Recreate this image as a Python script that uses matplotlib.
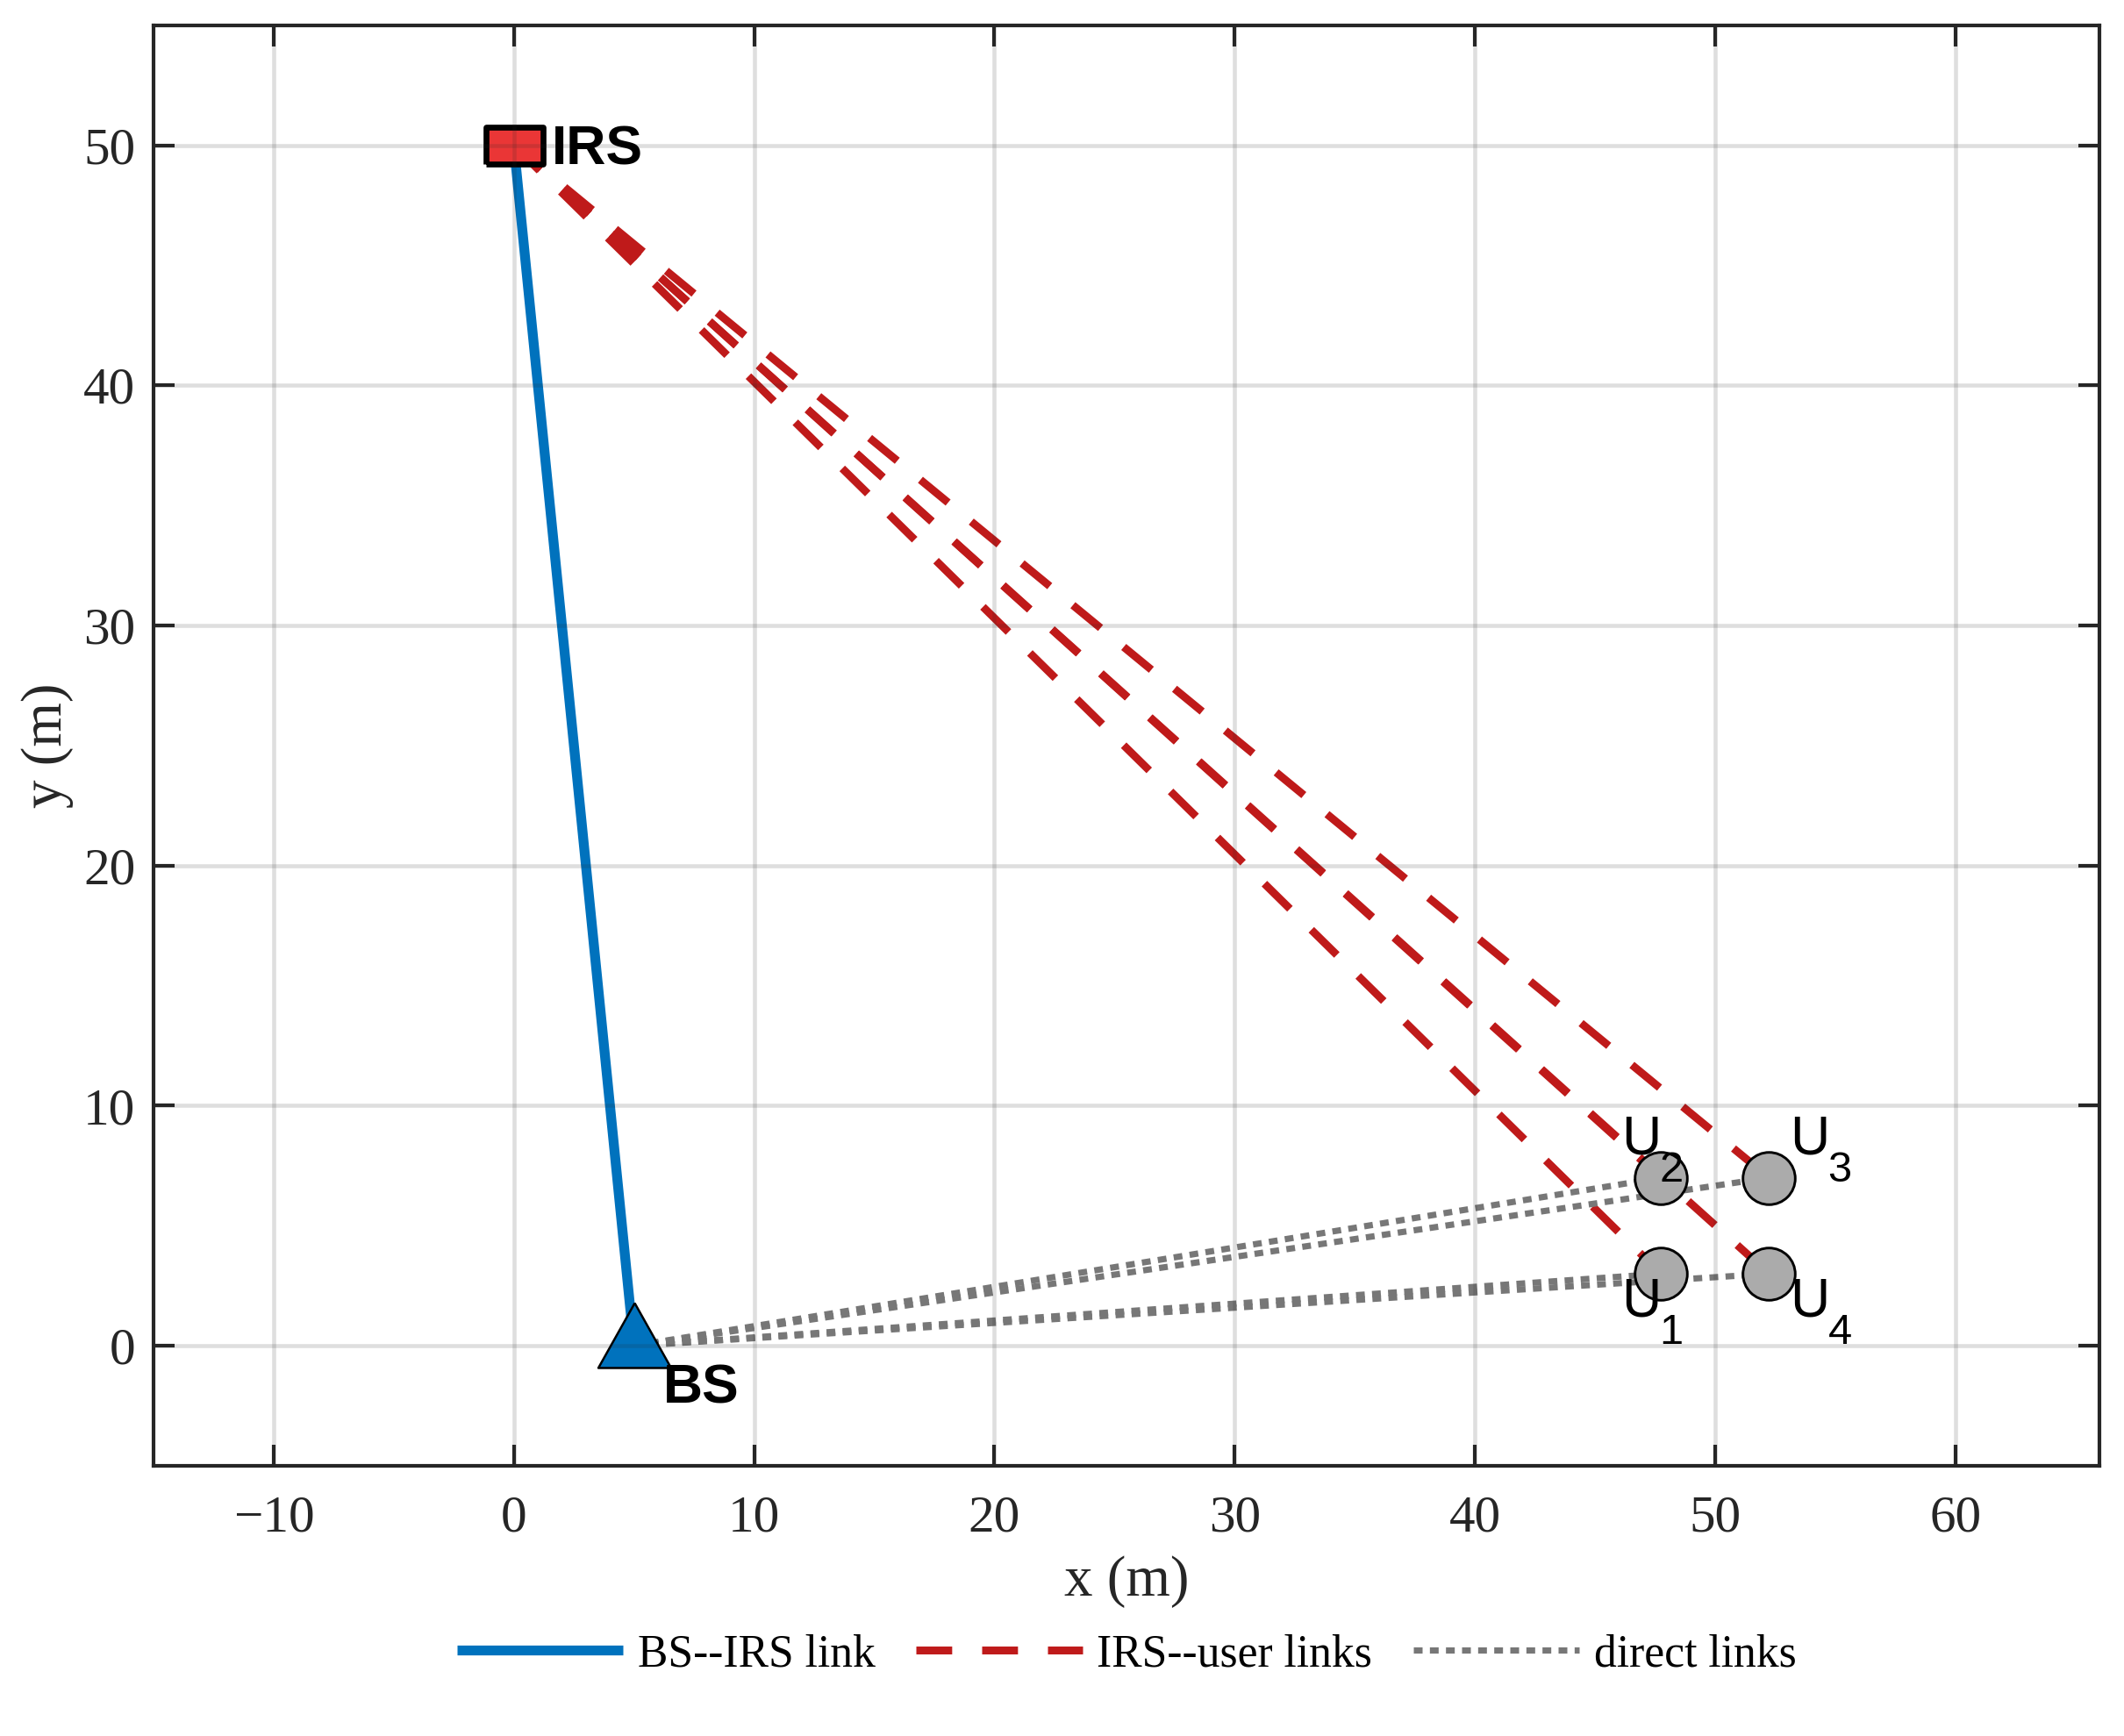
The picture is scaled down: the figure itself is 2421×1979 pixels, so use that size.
import matplotlib.pyplot as plt

# scene layout (metres)
bs_x, bs_y = 5, 0
irs_x, irs_y = 0, 50
user_x = [47.75, 47.75, 52.25, 52.25]
user_y = [3, 7, 7, 3]
user_ids = ['1', '2', '3', '4']

x_ticks = [-10, 0, 10, 20, 30, 40, 50, 60]
y_ticks = [0, 10, 20, 30, 40, 50]
x_lim = (-15, 66)
y_lim = (-5, 55)

blue = '#0072BD'
red = '#BF1A1A'
gray = '#777777'
dark = '#262626'

plt.rcParams['font.family'] = ['Liberation Serif', 'DejaVu Serif']
plt.rcParams['lines.scale_dashes'] = False

dpi = 300
fig = plt.figure(figsize=(2421 / dpi, 1979 / dpi), dpi=dpi)
ax = fig.add_axes([175 / 2421, 1 - 1671 / 1979, 2218 / 2421, 1642 / 1979])

# links
ax.plot([bs_x, irs_x], [bs_y, irs_y], color=blue, lw=2.7,
        solid_capstyle='butt', label='BS--IRS link')
for i in range(len(user_x)):
    ax.plot([irs_x, user_x[i]], [irs_y, user_y[i]], color=red, lw=2.15,
            dashes=(9.8, 8.2), dash_capstyle='butt',
            label='IRS--user links' if i == 0 else None)
for i in range(len(user_x)):
    ax.plot([bs_x, user_x[i]], [bs_y, user_y[i]], color=gray, lw=1.7,
            dashes=(2.4, 2.0), dash_capstyle='butt',
            label='direct links' if i == 0 else None)

# nodes
rect = [(-32.5, -21.2), (32.5, -21.2), (32.5, 21.2), (-32.5, 21.2), (-32.5, -21.2)]
ax.plot(irs_x, irs_y, linestyle='none', marker=rect, markersize=15.6,
        markerfacecolor='#EA3636', markeredgecolor='black', markeredgewidth=1.6)
tri = [(0, 49), (-41.5, -25), (41.5, -25), (0, 49)]
ax.plot(bs_x, bs_y, linestyle='none', marker=tri, markersize=23.5,
        markerfacecolor=blue, markeredgecolor='black', markeredgewidth=0.6)
ax.plot(user_x, user_y, linestyle='none', marker='o', markersize=14.3,
        markerfacecolor='#ABABAB', markeredgecolor='black', markeredgewidth=0.7)

sans = ['Liberation Sans', 'DejaVu Sans']
ax.annotate('IRS', (irs_x, irs_y), xytext=(43, -22), textcoords='offset pixels',
            fontsize=15, fontweight='bold', family=sans, ha='left', va='baseline')
ax.annotate('BS', (bs_x, bs_y), xytext=(33, -65), textcoords='offset pixels',
            fontsize=15, fontweight='bold', family=sans, ha='left', va='baseline')

cx = sum(user_x) / len(user_x)
cy = sum(user_y) / len(user_y)
for ux, uy, uid in zip(user_x, user_y, user_ids):
    left = ux < cx
    top = uy > cy
    u_dx = -45 if left else 24
    u_dy = 27 if top else -48
    n_dx = -2 if left else 67
    n_dy = -4 if top else -80
    ax.annotate('U', (ux, uy), xytext=(u_dx, u_dy), textcoords='offset pixels',
                fontsize=15, family=sans, ha='left', va='baseline', zorder=4)
    ax.annotate(uid, (ux, uy), xytext=(n_dx, n_dy), textcoords='offset pixels',
                fontsize=11.7, family=sans, ha='left', va='baseline', zorder=4)

ax.set_xlim(*x_lim)
ax.set_ylim(*y_lim)
ax.set_xticks(x_ticks)
ax.set_yticks(y_ticks)
ax.set_xticklabels([('\u2212' + str(-t)) if t < 0 else str(t) for t in x_ticks])
ax.tick_params(direction='in', length=5.7, width=1.0, color=dark,
               labelcolor=dark, labelsize=14.2, top=True, right=True)
ax.tick_params(axis='x', pad=8)
ax.tick_params(axis='y', pad=5)
for s in ax.spines.values():
    s.set_linewidth(1.0)
    s.set_color(dark)

ax.set_axisbelow(False)
ax.grid(True, color=(0.15, 0.15, 0.15), alpha=0.15, lw=1.1)

ax.set_xlabel('x (m)', fontsize=15.6, color=dark, labelpad=3.5)
ax.set_ylabel('y (m)', fontsize=15.6, color=dark, labelpad=2.5)

fig.legend(loc='center', bbox_to_anchor=(1284 / 2421, 1 - 1886 / 1979), ncol=3,
           frameon=False, fontsize=12.4, handlelength=3.67, handletextpad=0.32,
           columnspacing=0.9)

fig.savefig('out.png', dpi=dpi)
